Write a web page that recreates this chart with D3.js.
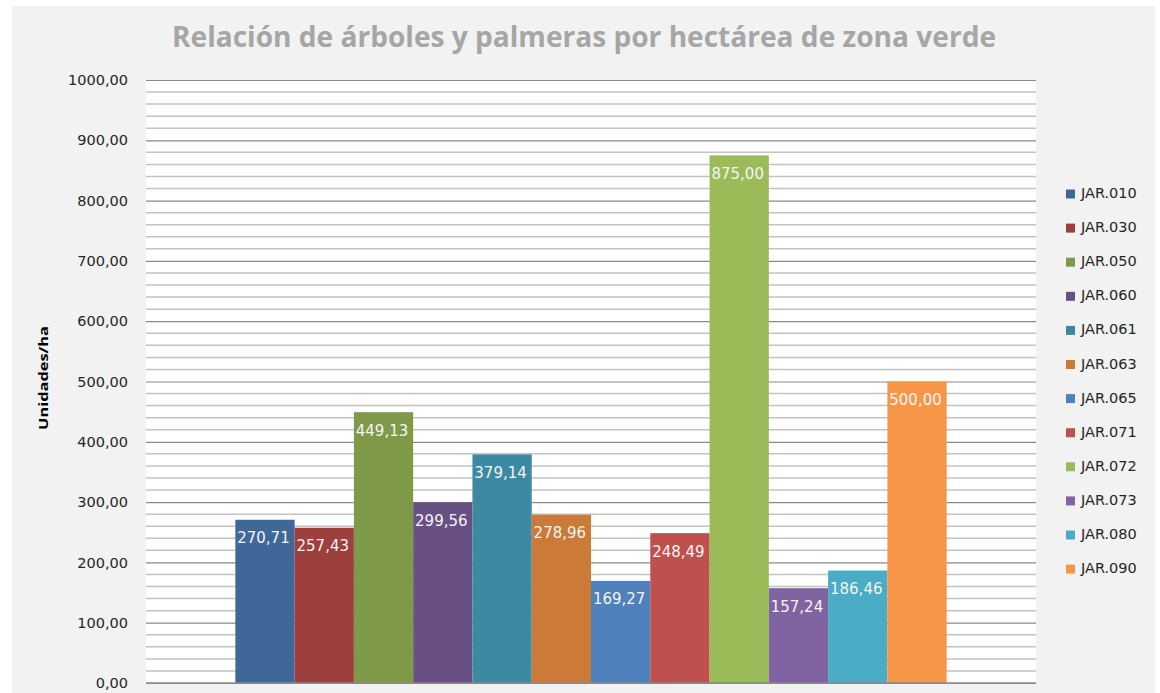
<!DOCTYPE html>
<html lang="es">
<head>
<meta charset="utf-8" />
<title>Relación de árboles y palmeras</title>
<script src="https://cdn.jsdelivr.net/npm/d3@7"></script>
<style>
  body { margin: 0; background: #fff; }
</style>
</head>
<body>
<svg id="chart" width="1160" height="693"></svg>
<script>
// data
const zonas = ["JAR.010", "JAR.030", "JAR.050", "JAR.060", "JAR.061", "JAR.063",
               "JAR.065", "JAR.071", "JAR.072", "JAR.073", "JAR.080", "JAR.090"];
const valores = [270.71, 257.43, 449.13, 299.56, 379.14, 278.96,
                 169.27, 248.49, 875.00, 157.24, 186.46, 500.00];
const colores = ["#3f6899", "#9d3f3c", "#7e9a48", "#684f84", "#3b8aa2", "#cb7a37",
                 "#4f81bd", "#c0504d", "#9bbb59", "#8064a2", "#4bacc6", "#f79646"];
const yTicks = d3.range(0, 1001, 100);

const fmt = v => d3.format(".2f")(v).replace(".", ",");

const svg = d3.select("#chart").attr("font-family", "DejaVu Sans");

// chart background
svg.append("rect")
  .attr("x", 12).attr("y", 6)
  .attr("width", 1143).attr("height", 687)
  .attr("fill", "#f2f2f2");

const margin = { top: 80, left: 146, right: 1036, bottom: 683 };

const y = d3.scaleLinear().domain([0, 1000]).range([margin.bottom, margin.top]);
const x0 = d3.scaleBand().domain(["g"]).range([margin.left, margin.right]).paddingInner(0).paddingOuter(0.1256);
const x = d3.scaleBand().domain(zonas).range([x0("g"), x0("g") + x0.bandwidth()]);

// plot area
svg.append("rect")
  .attr("x", margin.left).attr("y", margin.top)
  .attr("width", margin.right - margin.left).attr("height", margin.bottom - margin.top)
  .attr("fill", "#ffffff");

// minor gridlines
svg.append("g").selectAll("line")
  .data(d3.range(0, 1001, 20).filter(v => v % 100 !== 0))
  .enter().append("line")
  .attr("x1", margin.left).attr("x2", margin.right)
  .attr("y1", d => y(d)).attr("y2", d => y(d))
  .attr("stroke", "#c3c3c3").attr("stroke-width", 1.5);

// major gridlines + axis
const yAxis = svg.append("g")
  .attr("transform", `translate(${margin.left},0)`)
  .call(d3.axisLeft(y).tickValues(yTicks).tickFormat(fmt)
        .tickSize(-(margin.right - margin.left)).tickPadding(18));
yAxis.select(".domain").remove();
yAxis.selectAll("line").attr("stroke", "#8a8a8a").attr("stroke-width", 1.2);
yAxis.selectAll("text")
  .attr("font-family", "DejaVu Sans")
  .attr("font-size", "14.5px")
  .attr("fill", "#262626");

// bars
svg.append("g").selectAll("rect")
  .data(zonas)
  .enter().append("rect")
  .attr("x", d => x(d))
  .attr("y", (d, i) => y(valores[i]))
  .attr("width", x.bandwidth())
  .attr("height", (d, i) => y(0) - y(valores[i]))
  .attr("fill", (d, i) => colores[i]);

// value labels
svg.append("g").selectAll("text")
  .data(zonas)
  .enter().append("text")
  .attr("x", d => x(d) + x.bandwidth() / 2 - 1.5)
  .attr("y", (d, i) => y(valores[i]) + 19)
  .attr("text-anchor", "middle")
  .attr("dominant-baseline", "middle")
  .attr("font-size", "15px")
  .attr("fill", "#f4f4f4")
  .text((d, i) => fmt(valores[i]));

// baseline
svg.append("line")
  .attr("x1", margin.left).attr("x2", margin.right)
  .attr("y1", y(0)).attr("y2", y(0))
  .attr("stroke", "#8a8a8a").attr("stroke-width", 1.5);

// title
svg.append("text")
  .attr("x", 584).attr("y", 47)
  .attr("text-anchor", "middle")
  .attr("font-family", "Open Sans")
  .attr("font-size", "28px")
  .attr("font-weight", "700")
  .attr("fill", "#a6a6a6")
  .attr("textLength", 824)
  .attr("lengthAdjust", "spacingAndGlyphs")
  .attr("font-family", "Open Sans")
  .text("Relación de árboles y palmeras por hectárea de zona verde");

// y axis title
svg.append("text")
  .attr("transform", "translate(48,378) rotate(-90)")
  .attr("text-anchor", "middle")
  .attr("font-family", "Open Sans")
  .attr("font-size", "13px")
  .attr("font-weight", "700")
  .attr("fill", "#000")
  .attr("textLength", 104)
  .attr("lengthAdjust", "spacingAndGlyphs")
  .text("Unidades/ha");

// legend
const legend = svg.append("g").selectAll("g")
  .data(zonas)
  .enter().append("g")
  .attr("transform", (d, i) => `translate(1066, ${194 + i * 34.1})`);
legend.append("rect")
  .attr("x", 0).attr("y", -4.5)
  .attr("width", 9).attr("height", 9)
  .attr("fill", (d, i) => colores[i]);
legend.append("text")
  .attr("x", 15).attr("y", 0)
  .attr("dominant-baseline", "middle")
  .attr("font-size", "14.5px")
  .attr("fill", "#262626")
  .text(d => d);
</script>
</body>
</html>
